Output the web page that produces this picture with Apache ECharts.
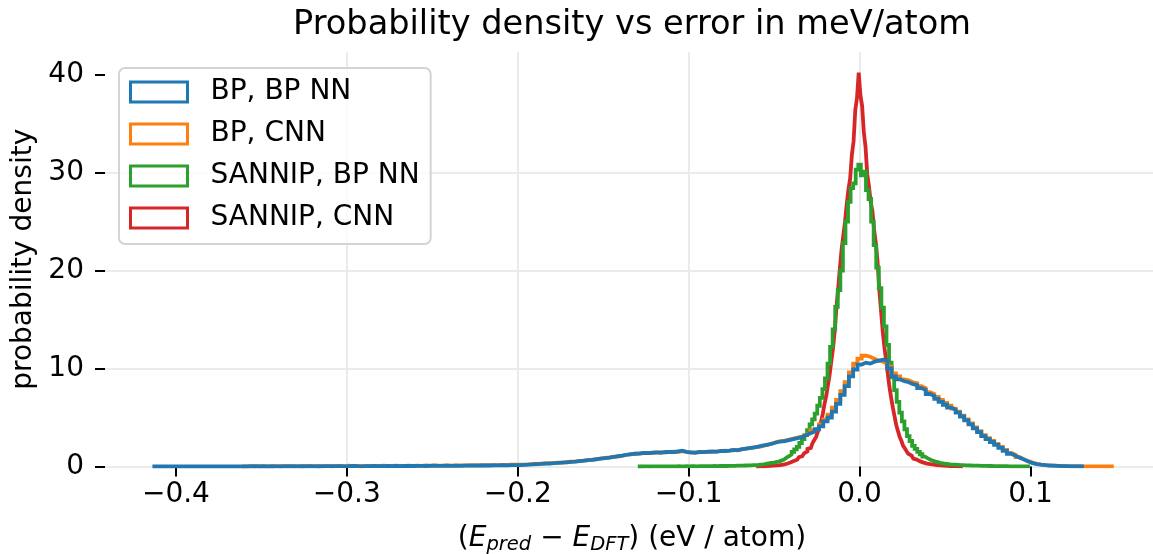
<!DOCTYPE html>
<html>
<head>
<meta charset="utf-8">
<script src="https://cdn.jsdelivr.net/npm/echarts@6/dist/echarts.min.js"></script>
<style>
  html, body { margin: 0; padding: 0; background: #ffffff; }
  #chart { width: 1153px; height: 554px; }
</style>
</head>
<body>
<div id="chart"></div>
<script>
const seriesNames = ['BP, BP NN', 'BP, CNN', 'SANNIP, BP NN', 'SANNIP, CNN'];
const seriesColors = ['#1f77b4', '#ff7f0e', '#2ca02c', '#d62728'];

// Each histogram: bin width, centre of its first bin, probability densities.
const bpBpBinWidth = 0.0025;
const bpBpStart = -0.4125;
const bpBpDensity = [
  0.01, 0, 0, 0.01, 0, 0, 0, 0, 0.01, 0,
  0, 0, 0.01, 0, 0, 0, 0, 0.01, 0, 0,
  0.02, 0, 0.02, 0.03, 0, 0.02, 0, 0.03, 0.02, 0,
  0.02, 0.03, 0, 0.02, 0.03, 0.02, 0.04, 0.02, 0, 0.03,
  0.03, 0.02, 0.04, 0.03, 0.02, 0.03, 0.05, 0.03, 0.02, 0.04,
  0.03, 0.05, 0.04, 0.03, 0.05, 0.04, 0.06, 0.04, 0.05, 0.06,
  0.05, 0.06, 0.07, 0.05, 0.06, 0.08, 0.06, 0.07, 0.08, 0.07,
  0.08, 0.07, 0.09, 0.08, 0.1, 0.09, 0.1, 0.11, 0.1, 0.12,
  0.11, 0.13, 0.12, 0.14, 0.15, 0.14,
  0.17, 0.2, 0.22, 0.25, 0.27, 0.3, 0.29, 0.34, 0.37, 0.4,
  0.43, 0.48, 0.5, 0.55, 0.6, 0.65, 0.68, 0.75, 0.8, 0.85,
  0.9, 0.97, 1.05, 1.1, 1.2, 1.27, 1.3, 1.33, 1.38, 1.36,
  1.42, 1.45, 1.4, 1.48, 1.5, 1.46, 1.55, 1.62, 1.5, 1.45,
  1.4, 1.5, 1.47, 1.52, 1.55, 1.5, 1.6, 1.58, 1.62, 1.7,
  1.65, 1.78, 1.82, 1.9, 1.95, 2.05, 2.15, 2.2, 2.35, 2.45,
  2.55, 2.6, 2.7, 2.8, 2.9, 3.0, 3.2, 3.4, 3.55, 3.8,
  4.1, 4.6, 5.0, 5.6, 6.4, 7.3, 8.2, 9.2, 9.9, 10.4,
  10.6, 10.5, 10.7, 10.8, 10.9, 10.8, 10.0, 9.2, 8.9, 8.7,
  8.6, 8.4, 8.3, 8.0, 7.8, 7.4, 7.2, 6.9, 6.6, 6.3,
  6.0, 5.8, 5.5, 5.1, 4.7, 4.3, 3.9, 3.5, 3.1, 2.8,
  2.5, 2.2, 1.9, 1.6, 1.3, 1.1, 0.9, 0.7, 0.5, 0.35,
  0.25, 0.18, 0.14, 0.1, 0.08, 0.06, 0.04, 0.03, 0.02, 0.02,
  0.01, 0.01
];

const bpCnnBinWidth = 0.0025;
const bpCnnStart = -0.36;
const bpCnnDensity = [
  0.02, 0.05, 0, 0.03, 0.06, 0.02, 0, 0.04, 0.03, 0.05,
  0.02, 0.06, 0.03, 0, 0.05, 0.04, 0.03, 0.07, 0.02, 0.04,
  0.05, 0.03, 0.06, 0.04, 0.08, 0.03, 0.05, 0.04, 0.07, 0.05,
  0.06, 0.04, 0.08, 0.05, 0.07, 0.09, 0.05, 0.06, 0.08, 0.07,
  0.09, 0.07, 0.1, 0.08, 0.11, 0.09, 0.1, 0.12, 0.09, 0.11,
  0.12, 0.1, 0.13, 0.12, 0.14, 0.13, 0.15, 0.14, 0.16, 0.15,
  0.17, 0.16, 0.18, 0.19, 0.2,
  0.2, 0.22, 0.26, 0.27, 0.3, 0.33, 0.35, 0.36, 0.4, 0.42,
  0.46, 0.5, 0.52, 0.58, 0.6, 0.66, 0.7, 0.74, 0.82, 0.88,
  0.92, 1.0, 1.02, 1.12, 1.18, 1.24, 1.32, 1.3, 1.36, 1.4,
  1.38, 1.44, 1.46, 1.42, 1.5, 1.52, 1.48, 1.56, 1.48, 1.42,
  1.45, 1.44, 1.5, 1.48, 1.5, 1.55, 1.56, 1.62, 1.6, 1.66,
  1.7, 1.74, 1.85, 1.88, 1.98, 2.0, 2.1, 2.25, 2.3, 2.5,
  2.6, 2.65, 2.75, 2.85, 2.95, 3.05, 3.25, 3.45, 3.7, 3.9,
  4.3, 4.8, 5.3, 6.0, 6.8, 7.7, 8.6, 9.6, 10.5, 11.0,
  11.3, 11.2, 11.0, 10.8, 10.7, 10.5, 10.2, 9.5, 9.2, 8.9,
  8.8, 8.6, 8.5, 8.2, 8.0, 7.6, 7.4, 7.1, 6.8, 6.5,
  6.2, 5.9, 5.6, 5.2, 4.8, 4.4, 4.0, 3.6, 3.2, 2.9,
  2.6, 2.3, 2.0, 1.7, 1.4, 1.2, 0.95, 0.75, 0.55, 0.4,
  0.28, 0.2, 0.15, 0.11, 0.09, 0.07, 0.05, 0.04, 0.04, 0.03,
  0.03, 0.02, 0.02, 0.02, 0.01, 0.02, 0.01, 0.01, 0.01
];

const sannipBpBinWidth = 0.0015;
const sannipBpStart = -0.129;
const sannipBpDensity = [
  0.01, 0, 0.01, 0.01, 0, 0.01, 0.02, 0.01, 0.01, 0.02,
  0.01, 0.02, 0.02, 0.01, 0.02, 0.03, 0.02, 0.02, 0.03, 0.02,
  0.03, 0.03, 0.02, 0.04, 0.03, 0.03, 0.04, 0.04, 0.03, 0.05,
  0.04, 0.05, 0.05, 0.06, 0.05, 0.06, 0.07, 0.07, 0.08, 0.08,
  0.09, 0.1, 0.11, 0.12, 0.14, 0.15, 0.17, 0.2, 0.22, 0.26,
  0.32, 0.36, 0.4, 0.45, 0.5, 0.6, 0.7, 0.9, 1.05, 1.25,
  1.5, 1.75, 2.0, 2.4, 2.8, 3.2, 3.7, 4.3, 4.8, 5.4,
  6.2, 7.0, 7.9, 9.0, 10.5, 12.2, 14.0, 16.3, 18.0, 20.0,
  22.8, 25.0, 27.0, 28.4, 28.9, 30.3, 30.8, 29.7, 30.1, 28.2,
  27.3, 25.0, 22.6, 20.3, 18.2, 16.2, 14.3, 12.4, 10.6, 9.1,
  7.8, 6.6, 5.5, 4.6, 3.8, 3.1, 2.6, 2.1, 1.8, 1.5,
  1.25, 1.0, 0.85, 0.72, 0.6, 0.5, 0.44, 0.38, 0.33, 0.28,
  0.25, 0.22, 0.2, 0.18, 0.16, 0.14, 0.13, 0.12, 0.11, 0.1,
  0.09, 0.08, 0.08, 0.07, 0.06, 0.06, 0.05, 0.05, 0.04, 0.04,
  0.04, 0.03, 0.03, 0.03, 0.02, 0.02, 0.02, 0.02, 0.01, 0.02,
  0.01, 0.01, 0.01
];

const sannipCnnBinWidth = 0.001;
const sannipCnnStart = -0.06;
const sannipCnnDensity = [
  0.02, 0.02, 0.03, 0.02, 0.04, 0.05, 0.04, 0.06, 0.07, 0.09,
  0.1, 0.12, 0.11, 0.15, 0.17, 0.2, 0.22, 0.28, 0.33, 0.4,
  0.5, 0.55, 0.62, 0.7, 0.8, 0.95, 1.05, 1.2, 1.35, 1.55,
  1.8, 1.9, 2.1, 2.4, 2.7, 3.0, 3.5, 4.0, 4.6, 5.4,
  6.4, 7.2, 8.3, 9.4, 10.8, 12.1, 13.9, 16.3, 18.2, 20.3,
  22.2, 23.6, 25.0, 26.8, 28.3, 29.4, 31.8, 33.2, 36.4, 37.6,
  40.2, 37.9, 36.8, 34.1, 32.6, 29.8, 28.6, 27.0, 26.1, 24.2,
  22.8, 21.0, 18.1, 16.0, 13.9, 12.2, 10.9, 9.5, 8.1, 7.0,
  6.0, 5.1, 4.2, 3.6, 3.0, 2.6, 2.1, 1.85, 1.55, 1.3,
  1.1, 0.92, 0.8, 0.7, 0.6, 0.52, 0.45, 0.4, 0.35, 0.3,
  0.27, 0.24, 0.2, 0.18, 0.16, 0.15, 0.13, 0.11, 0.1, 0.08,
  0.07, 0.06, 0.05, 0.05, 0.04, 0.03, 0.03, 0.02, 0.02, 0.02,
  0.01
];

const xTicks = [-0.4, -0.3, -0.2, -0.1, 0.0, 0.1];
const yTicks = [0, 10, 20, 30, 40];

const FONT = 'DejaVu Sans';

// Outline of a step histogram: up from zero at the first edge, across each
// bin at its height, and back down to zero after the last edge.
function stepOutline(width, firstCentre, densities) {
  const left = firstCentre - width / 2;
  const pts = [[left, 0]];
  densities.forEach((d, i) => {
    pts.push([left + i * width, d]);
    pts.push([left + (i + 1) * width, d]);
  });
  pts.push([left + densities.length * width, 0]);
  return pts;
}

const histograms = [
  [bpBpBinWidth, bpBpStart, bpBpDensity],
  [bpCnnBinWidth, bpCnnStart, bpCnnDensity],
  [sannipBpBinWidth, sannipBpStart, sannipBpDensity],
  [sannipCnnBinWidth, sannipCnnStart, sannipCnnDensity]
];

const series = histograms.map(([w, start, dens], k) => ({
  name: seriesNames[k],
  type: 'line',
  data: stepOutline(w, start, dens),
  showSymbol: false,
  symbol: 'none',
  z: 6 - k,
  color: seriesColors[k],
  lineStyle: { color: seriesColors[k], width: 3.8, join: 'miter' },
  emphasis: { disabled: true }
}));

function tickText(v) {
  if (Math.abs(v) < 1e-9) return '0.0';
  const s = Math.abs(v).toFixed(1);
  return v < 0 ? '\u2212' + s : s;
}

const chart = echarts.init(document.getElementById('chart'), null, { renderer: 'canvas', width: 1153, height: 554 });
chart.setOption({
  animation: false,
  backgroundColor: '#ffffff',
  title: {
    text: 'Probability density vs error in meV/atom',
    left: 627,
    textAlign: 'center',
    top: 3,
    textStyle: { fontFamily: FONT, fontSize: 33.6, fontWeight: 'normal', color: '#000' }
  },
  legend: {
    orient: 'vertical',
    left: 119,
    top: 68,
    padding: [10, 11, 12, 10],
    itemWidth: 57,
    itemHeight: 20,
    itemGap: 14,
    backgroundColor: 'rgba(255,255,255,0.8)',
    borderColor: '#d4d4d4',
    borderWidth: 2,
    borderRadius: 6,
    selectedMode: false,
    textStyle: { fontFamily: FONT, fontSize: 28, color: '#000', padding: [0, 0, 0, 18] },
    data: seriesNames.map((n, k) => ({
      name: n,
      icon: 'rect',
      itemStyle: { color: 'rgba(255,255,255,0)', borderColor: seriesColors[k], borderWidth: 3 }
    }))
  },
  grid: { left: 105, right: -6, top: 52, bottom: 87.5, containLabel: false, outerBoundsMode: 'none' },
  xAxis: {
    type: 'value',
    min: -0.4415,
    max: 0.1752,
    name: '({i|E}{s|pred} \u2212 {i|E}{s|DFT}) (eV / atom)',
    nameLocation: 'middle',
    nameGap: 56,
    nameTextStyle: {
      fontFamily: FONT, fontSize: 28, color: '#000',
      rich: {
        i: { fontFamily: FONT, fontSize: 28, fontStyle: 'italic', color: '#000' },
        s: { fontFamily: FONT, fontSize: 19.5, fontStyle: 'italic', color: '#000', padding: [12, 0, 0, 0] }
      }
    },
    axisLine: { show: false, onZero: false },
    axisTick: { show: true, customValues: xTicks, length: 10, lineStyle: { color: '#000', width: 2 } },
    axisLabel: {
      customValues: xTicks, margin: 14, formatter: tickText,
      fontFamily: FONT, fontSize: 28, color: '#000'
    },
    splitLine: { show: true, showMinLine: false, showMaxLine: false, lineStyle: { color: '#ebebeb', width: 2 } }
  },
  yAxis: {
    type: 'value',
    min: 0,
    max: 42.3,
    name: 'probability density',
    nameLocation: 'middle',
    nameGap: 66,
    nameTextStyle: { fontFamily: FONT, fontSize: 28, color: '#000' },
    axisLine: { show: false, onZero: false },
    axisTick: { show: true, customValues: yTicks, length: 10, lineStyle: { color: '#000', width: 2 } },
    axisLabel: {
      customValues: yTicks, margin: 21,
      fontFamily: FONT, fontSize: 28, color: '#000'
    },
    splitLine: { show: true, showMaxLine: false, lineStyle: { color: '#ebebeb', width: 2 } }
  },
  series: series
});
</script>
</body>
</html>
